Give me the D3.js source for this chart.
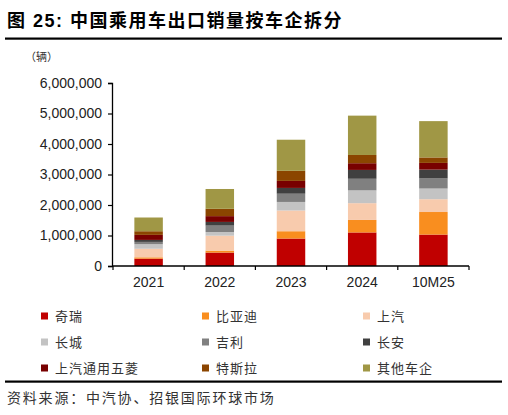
<!DOCTYPE html>
<html><head><meta charset="utf-8">
<script src="https://cdn.jsdelivr.net/npm/d3@7"></script>
<style>
html,body{margin:0;padding:0;background:#fff;}
svg{display:block;}
</style></head>
<body>
<svg id="chart" width="508" height="415"></svg>
<script>
const categories = ["2021","2022","2023","2024","10M25"];
const seriesNames = ["奇瑞","比亚迪","上汽","长城","吉利","长安","上汽通用五菱","特斯拉","其他车企"];
const chery   = [240000, 440000, 900000, 1100000, 1030000];
const byd     = [45000,  65000,  240000, 410000,  740000];
const saic    = [280000, 490000, 680000, 550000,  420000];
const gwm     = [150000, 120000, 280000, 420000,  350000];
const geely   = [75000,  210000, 270000, 380000,  330000];
const changan = [65000,  120000, 190000, 290000,  290000];
const sgmw    = [165000, 190000, 230000, 220000,  220000];
const tesla   = [120000, 240000, 330000, 270000,  180000];
const others  = [450000, 650000, 1020000, 1290000, 1190000];
const yTicks = [0,1000000,2000000,3000000,4000000,5000000,6000000];
const colors = ["#C00000","#F98E1F","#F8CBAD","#C3C3C3","#808080","#404040","#780000","#8B4500","#A09745"];

const seriesValues = [chery,byd,saic,gwm,geely,changan,sgmw,tesla,others];
const table = categories.map((c,i)=>{
  const row = {cat:c};
  seriesNames.forEach((s,j)=>row[s]=seriesValues[j][i]);
  return row;
});

const svg = d3.select("#chart");
const cjk = "'Noto Sans CJK SC', sans-serif";
const lat = "'Liberation Sans', Arial, 'Noto Sans CJK SC', sans-serif";

// Title
svg.append("text").attr("x",7).attr("y",27)
  .attr("font-family",lat).attr("font-weight","bold").attr("font-size",18)
  .attr("letter-spacing",1.5).attr("fill","#000")
  .text("图 25: 中国乘用车出口销量按车企拆分");
svg.append("rect").attr("x",5).attr("y",37.5).attr("width",497).attr("height",2.2).attr("fill","#000");

// unit
svg.append("text").attr("x",25).attr("y",61).attr("font-family",cjk).attr("font-size",11)
  .attr("fill","#333").text("（辆）");

const x = d3.scaleBand().domain(categories).range([113,469]).paddingInner(0.6).paddingOuter(0.3);
const y = d3.scaleLinear().domain([0,6000000]).range([266,83]);

const stack = d3.stack().keys(seriesNames)(table);

svg.append("g").selectAll("g").data(stack).join("g")
  .attr("fill",(d,i)=>colors[i])
  .selectAll("rect").data(d=>d).join("rect")
  .attr("x",d=>x(d.data.cat))
  .attr("width",x.bandwidth())
  .attr("y",d=>y(d[1]))
  .attr("height",d=>y(d[0])-y(d[1]));

// Y axis
const yAxis = svg.append("g").attr("transform","translate(112,0)")
  .call(d3.axisLeft(y).tickValues(yTicks).tickSize(4).tickPadding(6).tickFormat(d3.format(",")));
yAxis.select(".domain").attr("stroke","#000").attr("stroke-width",1.3);
yAxis.selectAll(".tick line").attr("stroke","#000").attr("stroke-width",1.2);
yAxis.selectAll("text").attr("font-family",lat).attr("font-size",14).attr("fill","#222");

// X axis
const xAxis = svg.append("g").attr("transform","translate(0,266)")
  .call(d3.axisBottom(x).tickSize(0).tickPadding(11));
xAxis.select(".domain").attr("stroke","#000").attr("stroke-width",1.5).attr("d","M113,0H469");
xAxis.selectAll("text").attr("font-family",lat).attr("font-size",14).attr("fill","#222");
// boundary ticks between categories
const bounds = categories.map(c=>x(c)-x.step()*x.paddingOuter()).concat([469]);
svg.append("g").selectAll("line").data(bounds).join("line")
  .attr("x1",d=>d).attr("x2",d=>d).attr("y1",266).attr("y2",270)
  .attr("stroke","#000").attr("stroke-width",1.2);

// Legend
const colX = [41,202,363];
const rowY = [316,342,368];
const leg = svg.append("g").selectAll("g").data(seriesNames).join("g")
  .attr("transform",(d,i)=>`translate(${colX[i%3]},${rowY[Math.floor(i/3)]})`);
leg.append("rect").attr("x",0).attr("y",-3.5).attr("width",7).attr("height",7).attr("fill",(d,i)=>colors[i]);
leg.append("text").attr("x",14).attr("y",0).attr("dy","0.36em")
  .attr("font-family",cjk).attr("font-size",13).attr("letter-spacing",1).attr("fill","#333")
  .text(d=>d);

// bottom line + source
svg.append("rect").attr("x",5).attr("y",380.5).attr("width",497).attr("height",2.2).attr("fill","#000");
svg.append("text").attr("x",7).attr("y",403).attr("font-family",cjk).attr("font-size",14)
  .attr("letter-spacing",1.8).attr("fill","#333").text("资料来源：中汽协、招银国际环球市场");
</script>
</body></html>
